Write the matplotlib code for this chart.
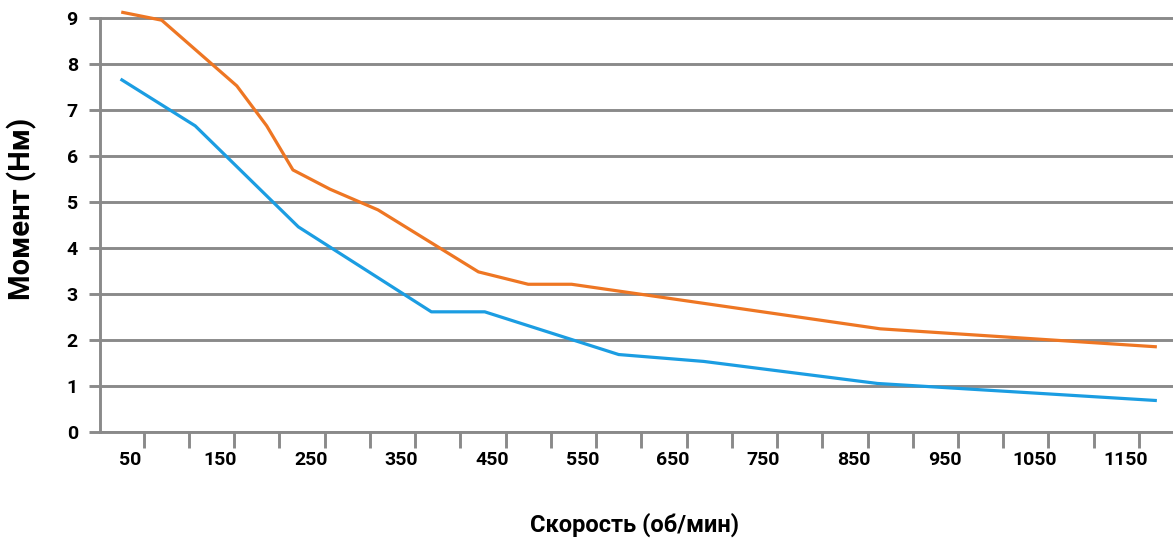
import numpy as np
import matplotlib
matplotlib.use("Agg")
import matplotlib.pyplot as plt

plt.rcParams["font.family"] = ["Roboto", "DejaVu Sans"]

# speed (rpm) / torque (Nm)
speed_orange = [42, 85, 168, 201, 230, 271, 324, 435, 490, 538, 879, 1183]
torque_orange = [9.13, 8.96, 7.53, 6.66, 5.70, 5.28, 4.83, 3.48, 3.21, 3.21, 2.24, 1.85]

speed_blue = [41, 122, 236, 383, 442, 590, 684, 876, 1183]
torque_blue = [7.66, 6.66, 4.46, 2.61, 2.61, 1.68, 1.53, 1.05, 0.68]

x_labels = [50, 150, 250, 350, 450, 550, 650, 750, 850, 950, 1050, 1150]
y_ticks = list(range(0, 10))

GRAY = "#8a8a8a"
ORANGE = "#ee7623"
BLUE = "#1b9de2"

fig = plt.figure(figsize=(11.73, 5.39), dpi=100)
fig.patch.set_facecolor("white")
ax = fig.add_axes([0.08525, 0.1991, 0.91475, 0.8009])

ax.plot(speed_orange, torque_orange, color=ORANGE, linewidth=2.3, zorder=3)
ax.plot(speed_blue, torque_blue, color=BLUE, linewidth=2.3, zorder=3)

ax.set_xlim(16.8, 1202.6)
ax.set_ylim(0, 9.4)

# horizontal grid
for y in y_ticks:
    ax.axhline(y, color=GRAY, linewidth=2.1, zorder=1)

for s in ["top", "right"]:
    ax.spines[s].set_visible(False)
ax.spines["left"].set_bounds(0, 9)
ax.spines["left"].set_color(GRAY)
ax.spines["left"].set_linewidth(2.1)
ax.spines["bottom"].set_color(GRAY)
ax.spines["bottom"].set_linewidth(2.1)

ax.set_yticks(y_ticks)
ax.set_yticklabels([str(v) for v in y_ticks])
ax.tick_params(axis="y", length=8, width=2.1, color=GRAY, pad=8,
               labelsize=14)

# tick marks between labels, labels on minor positions
ax.set_xticks(np.arange(65, 1166, 50))
ax.set_xticklabels([])
ax.tick_params(axis="x", which="major", length=11.5, width=2.1, color=GRAY)
ax.set_xticks(x_labels, minor=True)
ax.set_xticklabels([str(v) for v in x_labels], minor=True)
ax.tick_params(axis="x", which="minor", length=0, pad=14, labelsize=14)

for lab in ax.get_xticklabels(minor=True) + ax.get_yticklabels():
    lab.set_fontweight("bold")

fig.text(0.019, 0.612, "Момент (Нм)", rotation=90, ha="center", va="center",
         fontsize=21, fontweight="bold")
fig.text(0.5405, 0.027, "Скорость (об/мин)", ha="center", va="center",
         fontsize=17, fontweight="bold")

fig.savefig("out.png", dpi=100, facecolor="white")
plt.close(fig)
